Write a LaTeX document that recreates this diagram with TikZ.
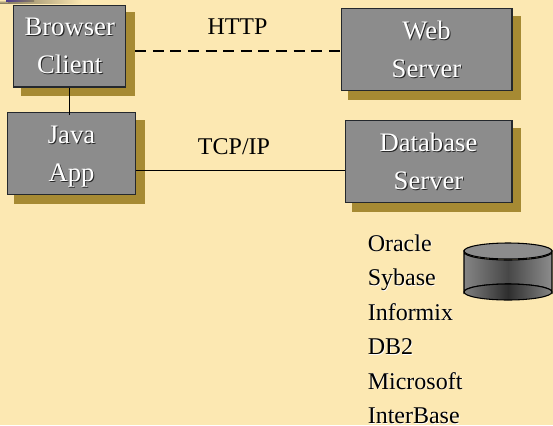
\documentclass[tikz,border=0pt]{standalone}
\usepackage{fontspec}
\setmainfont{Liberation Serif}
\definecolor{bgc}{HTML}{FCE8B2}
\definecolor{shad}{HTML}{A68A33}
\definecolor{boxc}{HTML}{8C8C8C}
\definecolor{edgec}{HTML}{24282D}
\definecolor{purp}{HTML}{4A3A8C}
\newcommand{\shtxt}[1]{\makebox[0pt][l]{\hspace{0.8pt}\raisebox{-0.8pt}{\color{black!85}#1}}#1}
\newcommand{\lttxt}[1]{\makebox[0pt][l]{\hspace{0.6pt}\raisebox{-0.6pt}{\color{white}#1}}#1}
\tikzset{
  srvbox/.style 2 args={draw=edgec,fill=boxc,line width=0.8pt,minimum width=#1*0.75pt-0.8pt,
    minimum height=#2*0.75pt-0.8pt,inner sep=0pt,align=center,text=white,
    font=\fontsize{20}{28.5}\selectfont},
  shadbox/.style={fill=shad,draw=none},
  plainlabel/.style={font=\fontsize{18}{18}\selectfont,inner sep=0pt,anchor=base,text=black},
  listitem/.style={plainlabel,anchor=base west},
  wire/.style={draw=black,line width=0.75pt},
  dashwire/.style={draw=black,line width=1.5pt,dash pattern=on 8.2pt off 5pt}
}
\begin{document}
\begin{tikzpicture}[x=0.75pt,y=-0.75pt]
\useasboundingbox (0,0) rectangle (553,425);
\fill[bgc] (0,0) rectangle (553,425);
% remnant at the top-left edge
\shade[left color=bgc,right color=black!45!bgc,shading angle=0] (0,0) rectangle (8,3);
\shade[left color=black!45!bgc,right color=bgc] (8,0) rectangle (82,3);
\shade[left color=purp,right color=black!45!bgc] (6,0) rectangle (34,1.3);
% shadows
\fill[shadbox] (21,12) rectangle (135,96);
\fill[shadbox] (14,120) rectangle (145,203.5);
\fill[shadbox] (348,16) rectangle (521,100);
\fill[shadbox] (352,128) rectangle (521,212);
% boxes
\node[srvbox={113}{83}] (browser) at (69.75,46) {\rule{0pt}{14pt}\shtxt{Browser}\\\shtxt{Client}};
\node[srvbox={129}{83}] (java) at (71.5,153.5) {\rule{0pt}{18.8pt}\shtxt{Java}\\\shtxt{App}};
\node[srvbox={172}{83}] (web) at (426.5,49.5) {\shtxt{Web}\\\shtxt{Server}};
\node[srvbox={168}{83}] (db) at (428.5,161.5) {\shtxt{Database}\\\shtxt{Server}};
% connectors
\coordinate (httpline) at (0,51);
\coordinate (tcpline) at (0,170);
\draw[wire,shorten >=-2.2pt,xshift=0.5pt] (browser.south) -- (browser.south |- java.north);
\draw[dashwire,shorten <=6.7pt] (browser.east |- httpline) -- (web.west |- httpline);
\draw[wire] (java.east |- tcpline) -- (db.west |- tcpline);
% labels
\node[plainlabel] (http) at (237.5,34) {HTTP};
\node[plainlabel] (tcp) at (234,154) {TCP/IP};
% vendor list
\node[listitem] (l1) at (367.5,251) {\lttxt{Oracle}};
\node[listitem] (l2) at (367.5,285.5) {\lttxt{Sybase}};
\node[listitem] (l3) at (367.5,320) {\lttxt{Informix}};
\node[listitem] (l4) at (367.5,354.5) {\lttxt{DB2}};
\node[listitem] (l5) at (367.5,389) {\lttxt{Microsoft}};
\node[listitem] (l6) at (367.5,423.5) {\lttxt{InterBase}};
% database cylinder
\shade[left color=black!48,right color=black!45,middle color=black!72,draw=black,line width=0.8pt]
  (464,252) -- (464,292) arc[start angle=180,end angle=360,x radius=44,y radius=8]
  -- (552,252) arc[start angle=0,end angle=180,x radius=44,y radius=8] -- cycle;
\shade[left color=black!50,right color=black!48,middle color=black!82,draw=black,line width=0.8pt]
  (508,292) ellipse[x radius=44,y radius=8];
\filldraw[fill=boxc,draw=black,line width=0.8pt] (508,251) ellipse[x radius=44,y radius=8];
\end{tikzpicture}
\end{document}
